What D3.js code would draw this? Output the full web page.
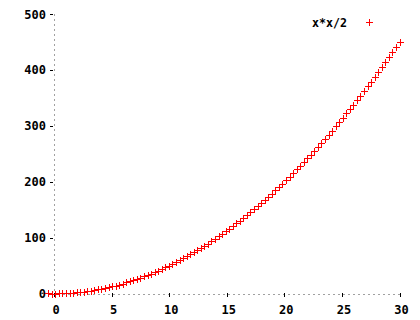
<!DOCTYPE html>
<html>
<head>
<meta charset="utf-8">
<script src="https://cdn.jsdelivr.net/npm/d3@7"></script>
<style>
  body { margin: 0; background: #fff; }
  text { font-family: "DejaVu Sans Mono", monospace; font-weight: bold; font-size: 12px; fill: #000; }
</style>
</head>
<body>
<div id="chart"></div>
<script>
let xVals = [-0.50,-0.19,0.12,0.42,0.73,1.04,1.35,1.66,1.96,2.27,
  2.58,2.89,3.20,3.51,3.81,4.12,4.43,4.74,5.05,5.35,
  5.66,5.97,6.28,6.59,6.89,7.20,7.51,7.82,8.13,8.43,
  8.74,9.05,9.36,9.67,9.97,10.28,10.59,10.90,11.21,11.52,
  11.82,12.13,12.44,12.75,13.06,13.36,13.67,13.98,14.29,14.60,
  14.90,15.21,15.52,15.83,16.14,16.44,16.75,17.06,17.37,17.68,
  17.98,18.29,18.60,18.91,19.22,19.53,19.83,20.14,20.45,20.76,
  21.07,21.37,21.68,21.99,22.30,22.61,22.91,23.22,23.53,23.84,
  24.15,24.45,24.76,25.07,25.38,25.69,26.00,26.30,26.61,26.92,
  27.23,27.54,27.84,28.15,28.46,28.77,29.08,29.38,29.69,30.00];
let yVals = [0.1,0.0,0.0,0.1,0.3,0.5,0.9,1.4,1.9,2.6,
  3.3,4.2,5.1,6.1,7.3,8.5,9.8,11.2,12.7,14.3,
  16.0,17.8,19.7,21.7,23.8,25.9,28.2,30.6,33.0,35.6,
  38.2,41.0,43.8,46.7,49.7,52.9,56.1,59.4,62.8,66.3,
  69.9,73.6,77.4,81.2,85.2,89.3,93.5,97.7,102.1,106.5,
  111.1,115.7,120.4,125.3,130.2,135.2,140.3,145.5,150.8,156.2,
  161.7,167.3,173.0,178.8,184.7,190.6,196.7,202.8,209.1,215.4,
  221.9,228.4,235.1,241.8,248.6,255.5,262.5,269.6,276.8,284.1,
  291.5,299.0,306.6,314.3,322.1,329.9,337.9,345.9,354.1,362.3,
  370.7,379.1,387.6,396.3,405.0,413.8,422.7,431.7,440.8,450.0];
let xTicks = [0, 5, 10, 15, 20, 25, 30];
let yTicks = [0, 100, 200, 300, 400, 500];
let seriesName = "x*x/2";

let w = 420, h = 320;
let svg = d3.select("#chart").append("svg").attr("width", w).attr("height", h);

let x = d3.scaleLinear().domain([0, 30]).range([54, 399.5]);
let y = d3.scaleLinear().domain([0, 500]).range([293.5, 14]);

let r = v => Math.round(v) + 0.5;

// zero axes, dotted grey
svg.append("line")
  .attr("x1", x(-0.5)).attr("x2", x(30))
  .attr("y1", r(y(0))).attr("y2", r(y(0)))
  .attr("stroke", "#a0a0a0").attr("stroke-dasharray", "2,3")
  .attr("shape-rendering", "crispEdges");
svg.append("line")
  .attr("x1", r(x(0))).attr("x2", r(x(0)))
  .attr("y1", y(500)).attr("y2", y(0))
  .attr("stroke", "#a0a0a0").attr("stroke-dasharray", "2,3")
  .attr("shape-rendering", "crispEdges");

// y ticks + labels
let yg = svg.append("g").selectAll("g").data(yTicks).enter().append("g");
yg.append("line")
  .attr("x1", 50).attr("x2", 53)
  .attr("y1", d => r(y(d))).attr("y2", d => r(y(d)))
  .attr("stroke", "#000").attr("shape-rendering", "crispEdges");
yg.append("text")
  .attr("x", 46).attr("y", d => y(d) + 4.5)
  .attr("text-anchor", "end")
  .text(d => d);

// x ticks + labels
let xg = svg.append("g").selectAll("g").data(xTicks).enter().append("g");
xg.append("line")
  .attr("x1", d => r(x(d))).attr("x2", d => r(x(d)))
  .attr("y1", 293).attr("y2", 297)
  .attr("stroke", "#000").attr("shape-rendering", "crispEdges");
xg.append("text")
  .attr("x", d => x(d) + 2).attr("y", 314)
  .attr("text-anchor", "middle")
  .text(d => d);

// + markers
function cross(cx, cy) {
  let a = r(cx), b = r(cy), s = 3.5;
  return `M${a - s},${b}H${a + s}M${a},${b - s}V${b + s}`;
}
let pts = xVals.map((v, i) => ({x: v, y: yVals[i]}));
svg.append("g").selectAll("path").data(pts).enter().append("path")
  .attr("d", d => cross(x(d.x), y(d.y)))
  .attr("stroke", "#ff0000").attr("fill", "none")
  .attr("shape-rendering", "crispEdges");

// legend
svg.append("text").attr("x", 312).attr("y", 27)
  .attr("textLength", 35).attr("lengthAdjust", "spacingAndGlyphs")
  .text(seriesName);
svg.append("path")
  .attr("d", cross(369, 22))
  .attr("stroke", "#ff0000").attr("fill", "none")
  .attr("shape-rendering", "crispEdges");
</script>
</body>
</html>
